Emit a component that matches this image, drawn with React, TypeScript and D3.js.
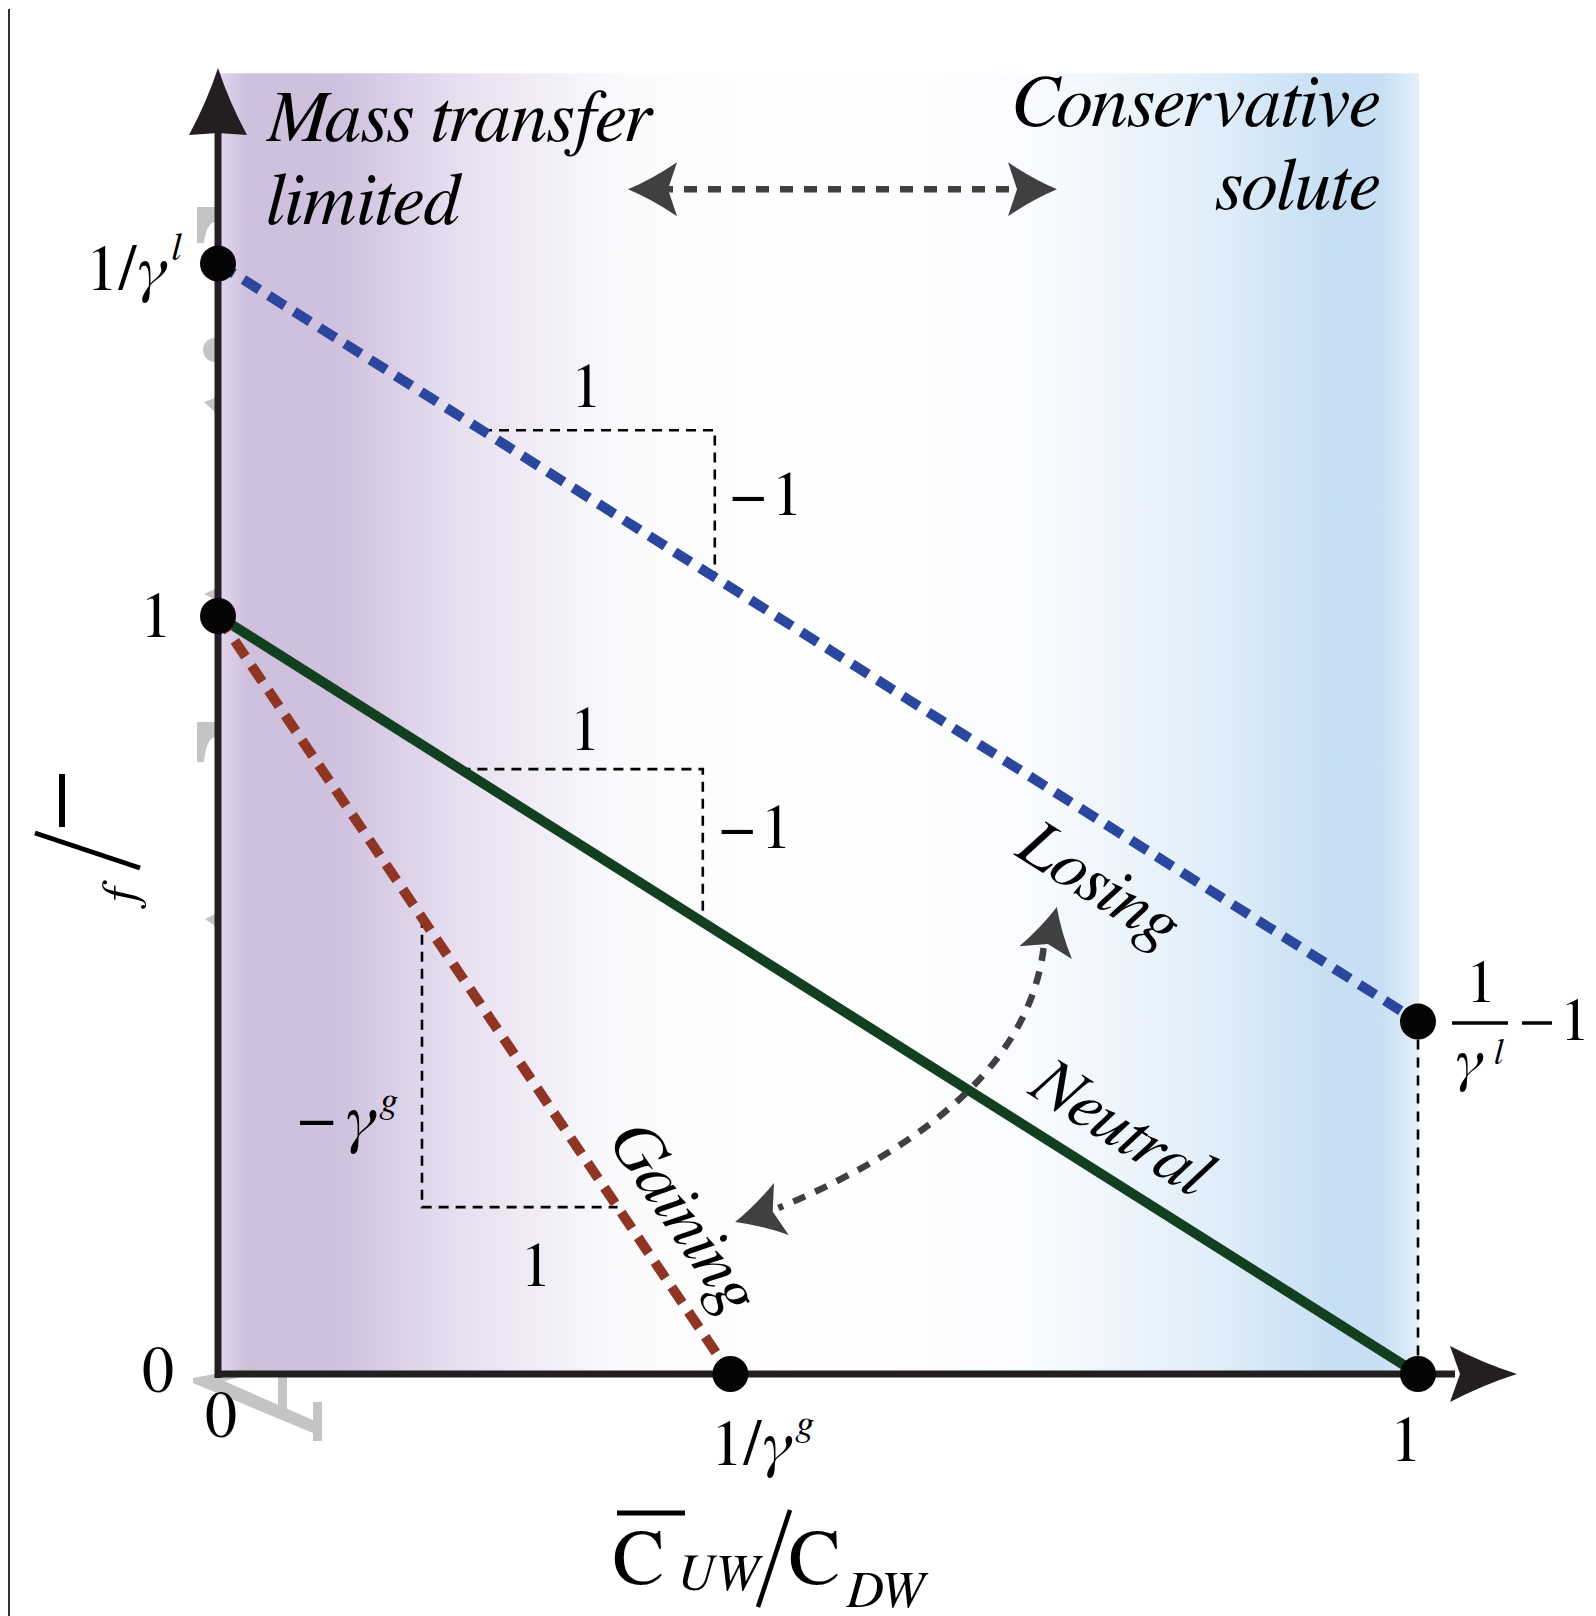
import React from "react";
import * as d3 from "d3";

const W = 1596;
const H = 1616;
const serif = "FreeSerif, 'Times New Roman', serif";

// lines: losing, neutral, gaining  (x = C_UW/C_DW, y = f/..)
const lineNames = ["Losing", "Neutral", "Gaining"];
const lineX0 = [0, 0, 0];
const lineY0 = [1.465, 1, 1];
const lineX1 = [1, 1, 0.427];
const lineY1 = [0.465, 0, 0];
const lineColors = ["#2b479d", "#113f20", "#8f3523"];
const lineDashed = [true, false, true];

// marked points
const pointX = [0, 0, 1, 1, 0.427];
const pointY = [1.465, 1, 0.465, 0, 0];

// slope triangles (line index, from x, to x)
const triLine = [0, 1, 2];
const triXa = [0.22, 0.202, 0.17];
const triXb = [0.414, 0.404, 0.333];

// axis extents / shaded region
const yTop = 1.716;
const yAxisMax = 1.723;
const xAxisMax = 1.0825;

const x = d3.scaleLinear().domain([0, 1]).range([218, 1418]);
const y = d3.scaleLinear().domain([0, 1]).range([1374, 616]);

const lineAt = (i: number, xv: number) =>
  lineY0[i] + ((lineY1[i] - lineY0[i]) * (xv - lineX0[i])) / (lineX1[i] - lineX0[i]);

const pt = (p: number[]) => `${p[0].toFixed(1)},${p[1].toFixed(1)}`;

const stealth = (tx: number, ty: number, dx: number, dy: number, len: number, half: number, indent: number) => {
  const n = Math.hypot(dx, dy);
  const ux = dx / n, uy = dy / n;
  const px = -uy, py = ux;
  const bx = tx - ux * len, by = ty - uy * len;
  const c1 = [bx + px * half, by + py * half];
  const c2 = [bx - px * half, by - py * half];
  const m = [tx - ux * (len - indent), ty - uy * (len - indent)];
  const q1 = [tx - ux * len * 0.5 + px * half * 0.38, ty - uy * len * 0.5 + py * half * 0.38];
  const q2 = [tx - ux * len * 0.5 - px * half * 0.38, ty - uy * len * 0.5 - py * half * 0.38];
  const t = [tx, ty];
  return `M ${pt(t)} Q ${pt(q1)} ${pt(c1)} L ${pt(m)} L ${pt(c2)} Q ${pt(q2)} ${pt(t)} Z`;
};

const App = () => {
  const arrowCol = "#404040";
  // curved arrow between gaining and losing
  const cp = d3.path();
  cp.moveTo(x(0.688), y(0.562));
  cp.quadraticCurveTo(x(0.672), y(0.355), x(0.467), y(0.219));

  return (
    <svg width={W} height={H} style={{ display: "block", position: "absolute", left: 0, top: 0, background: "#fff" }}>
      <defs>
        <linearGradient id="bg" x1="0" x2="1" y1="0" y2="0">
          <stop offset="0" stopColor="#e2d8ec" />
          <stop offset="0.025" stopColor="#cebfdd" />
          <stop offset="0.1" stopColor="#d0c1de" />
          <stop offset="0.2" stopColor="#e7dff0" />
          <stop offset="0.33" stopColor="#fafafd" />
          <stop offset="0.5" stopColor="#ffffff" />
          <stop offset="0.68" stopColor="#f9fbfe" />
          <stop offset="0.83" stopColor="#e0eef9" />
          <stop offset="0.93" stopColor="#c6def3" />
          <stop offset="0.97" stopColor="#c9e0f4" />
          <stop offset="1" stopColor="#e4eff9" />
        </linearGradient>
      </defs>

      {/* frame line on the left */}
      <line x1={9} y1={9} x2={9} y2={H} stroke="#333" strokeWidth={2} />

      {/* shaded background */}
      <rect x={x(0)} y={y(yTop)} width={x(1) - x(0) + 1} height={y(0) - y(yTop)} fill="url(#bg)" />

      {/* gray ghost marks near the y axis */}
      <g fill="#c4c4c4">
        <path d="M197,207H215V222Q206,224 204,243H197Z" />
        <path d="M215,338A12,12 0 0 0 215,362Z" />
        <path d="M204,402L215,398V412Z" />
        <path d="M204,594L215,589V600Z" />
        <path d="M197,722H215V737Q206,739 204,762H197Z" />
        <path d="M205,919L215,914V926Z" />
        <path d="M193,1378L257,1366L262,1372L224,1381L322,1424V1441H313V1433L193,1383Z" />
        <rect x={278} y={1375} width={9} height={34} />
        <rect x={313} y={1402} width={9} height={38} />
      </g>

      {/* slope triangles */}
      {triLine.map((li, k) => {
        const xa = x(triXa[k]), xb = x(triXb[k]);
        const ya = y(lineAt(li, triXa[k])), yb = y(lineAt(li, triXb[k]));
        const d = li === 2 ? `M${xa},${ya}V${yb}H${xb}` : `M${xa},${ya}H${xb}V${yb}`;
        return <path key={k} d={d} fill="none" stroke="#000" strokeWidth={2.6} strokeDasharray="10 7" />;
      })}
      <g fontFamily={serif} fontSize={62} fill="#000">
        <text x={x(0.307)} y={407} textAnchor="middle">1</text>
        <text x={x(0.306)} y={750} textAnchor="middle">1</text>
        <text x={x(triXb[0]) + 16} y={515}>−<tspan dx={6}>1</tspan></text>
        <text x={x(triXb[1]) + 17} y={848}>−<tspan dx={6}>1</tspan></text>
        <text x={x(0.265)} y={1286} textAnchor="middle">1</text>
        <text x={298} y={1140} fontSize={66}>
          −<tspan dx={10} fontStyle="italic">γ</tspan>
          <tspan fontStyle="italic" fontSize={38} dx={5} dy={-28}>g</tspan>
        </text>
      </g>

      {/* vertical dashed from losing end point */}
      <line x1={x(1)} x2={x(1)} y1={y(lineY1[0]) + 18} y2={y(0) - 18} stroke="#000" strokeWidth={2.6} strokeDasharray="10 8" />

      {/* lines */}
      {lineNames.map((n, i) => (
        <line
          key={n}
          x1={x(lineX0[i])}
          y1={y(lineY0[i])}
          x2={x(lineX1[i])}
          y2={y(lineY1[i])}
          stroke={lineColors[i]}
          strokeWidth={10}
          strokeDasharray={lineDashed[i] ? "19 11" : undefined}
        />
      ))}

      {/* axes */}
      <line x1={x(0)} x2={x(0)} y1={y(0) + 4} y2={128} stroke="#231f20" strokeWidth={7} />
      <line x1={x(0) - 3} x2={1455} y1={y(0)} y2={y(0)} stroke="#231f20" strokeWidth={7} />
      <path d={stealth(x(0), y(yAxisMax), 0, -1, 67, 29, 2)} fill="#231f20" />
      <path d={stealth(x(xAxisMax), y(0), 1, 0, 67, 28, 10)} fill="#231f20" />

      {/* points */}
      {pointX.map((px, i) => (
        <circle key={i} cx={x(px)} cy={y(pointY[i])} r={18} fill="#050505" />
      ))}

      {/* top double arrow */}
      <line x1={660} x2={1025} y1={y(1.563)} y2={y(1.563)} stroke={arrowCol} strokeWidth={6.5} strokeDasharray="13 11" />
      <path d={stealth(628, y(1.563), -1, 0, 49, 27, 9)} fill={arrowCol} />
      <path d={stealth(1057, y(1.563), 1, 0, 49, 27, 9)} fill={arrowCol} />

      {/* curved arrow */}
      <path d={cp.toString()} fill="none" stroke={arrowCol} strokeWidth={6.5} strokeDasharray="13 11" />
      <path d={stealth(x(0.699), y(0.616), 11, -45, 47, 27, 9)} fill={arrowCol} />
      <path d={stealth(x(0.431), y(0.2005), -46, 13, 48, 27, 9)} fill={arrowCol} />

      {/* line labels */}
      <g fontFamily={serif} fontStyle="italic" fontSize={69} fill="#000" textAnchor="middle">
        <text transform={`translate(1099,884) rotate(32.3)`} dy="0.3em">{lineNames[0]}</text>
        <text transform={`translate(1121,1128) rotate(32.3)`} dy="0.3em">{lineNames[1]}</text>
        <text transform={`translate(684,1217) rotate(55.9)`} dy="0.3em">{lineNames[2]}</text>
      </g>

      {/* region labels */}
      <g fontFamily={serif} fontStyle="italic" fontSize={74} fill="#000">
        <text x={266} y={141}>Mass transfer</text>
        <text x={266} y={224}>limited</text>
        <text x={1379} y={126} textAnchor="end">Conservative</text>
        <text x={1379} y={209} textAnchor="end">solute</text>
      </g>

      {/* y tick labels */}
      <g fontFamily={serif} fontSize={64} fill="#000">
        <text x={86} y={290}>
          1/<tspan fontStyle="italic">γ</tspan>
          <tspan fontStyle="italic" fontSize={38} dx={5} dy={-30}>l</tspan>
        </text>
        <text x={172} y={y(1) + 21} textAnchor="end">1</text>
        <text x={174} y={y(0) + 18} textAnchor="end">0</text>
      </g>

      {/* x tick labels */}
      <g fontFamily={serif} fontSize={64} fill="#000">
        <text x={x(0) + 3} y={1437} textAnchor="middle">0</text>
        <text x={711} y={1465}>
          1/<tspan fontStyle="italic">γ</tspan>
          <tspan fontStyle="italic" fontSize={38} dx={5} dy={-30}>g</tspan>
        </text>
        <text x={x(1) - 12} y={1461} textAnchor="middle">1</text>
      </g>

      {/* right end label: 1/γ^l − 1 */}
      <g fontFamily={serif} fontSize={60} fill="#000">
        <text x={1481} y={1002} textAnchor="middle">1</text>
        <line x1={1452} x2={1508} y1={1023} y2={1023} stroke="#000" strokeWidth={3.5} />
        <text x={1455} y={1080} fontStyle="italic">γ</text>
        <text x={1494} y={1064} fontStyle="italic" fontSize={36}>l</text>
        <line x1={1522} x2={1552} y1={1023} y2={1023} stroke="#000" strokeWidth={3.5} />
        <text x={1560} y={1040}>1</text>
      </g>

      {/* y axis label (partly shown) */}
      <g>
        <text transform="translate(135,905) rotate(-90)" fontFamily={serif} fontStyle="italic" fontSize={50}>f</text>
        <line x1={35} y1={833} x2={140} y2={868} stroke="#000" strokeWidth={5} />
        <line x1={62} y1={774} x2={62} y2={827} stroke="#000" strokeWidth={6} />
      </g>

      {/* x axis label */}
      <g fontFamily={serif} fill="#000">
        <line x1={617} x2={685} y1={1513} y2={1513} stroke="#000" strokeWidth={5} />
        <text x={612} y={1584} fontSize={78}>C</text>
        <text x={677} y={1590} fontSize={52} fontStyle="italic">UW</text>
        <line x1={790} y1={1510} x2={758} y2={1607} stroke="#000" strokeWidth={4.5} />
        <text x={788} y={1584} fontSize={78}>C</text>
        <text x={846} y={1607} fontSize={52} fontStyle="italic">DW</text>
      </g>
    </svg>
  );
};

export default App;
